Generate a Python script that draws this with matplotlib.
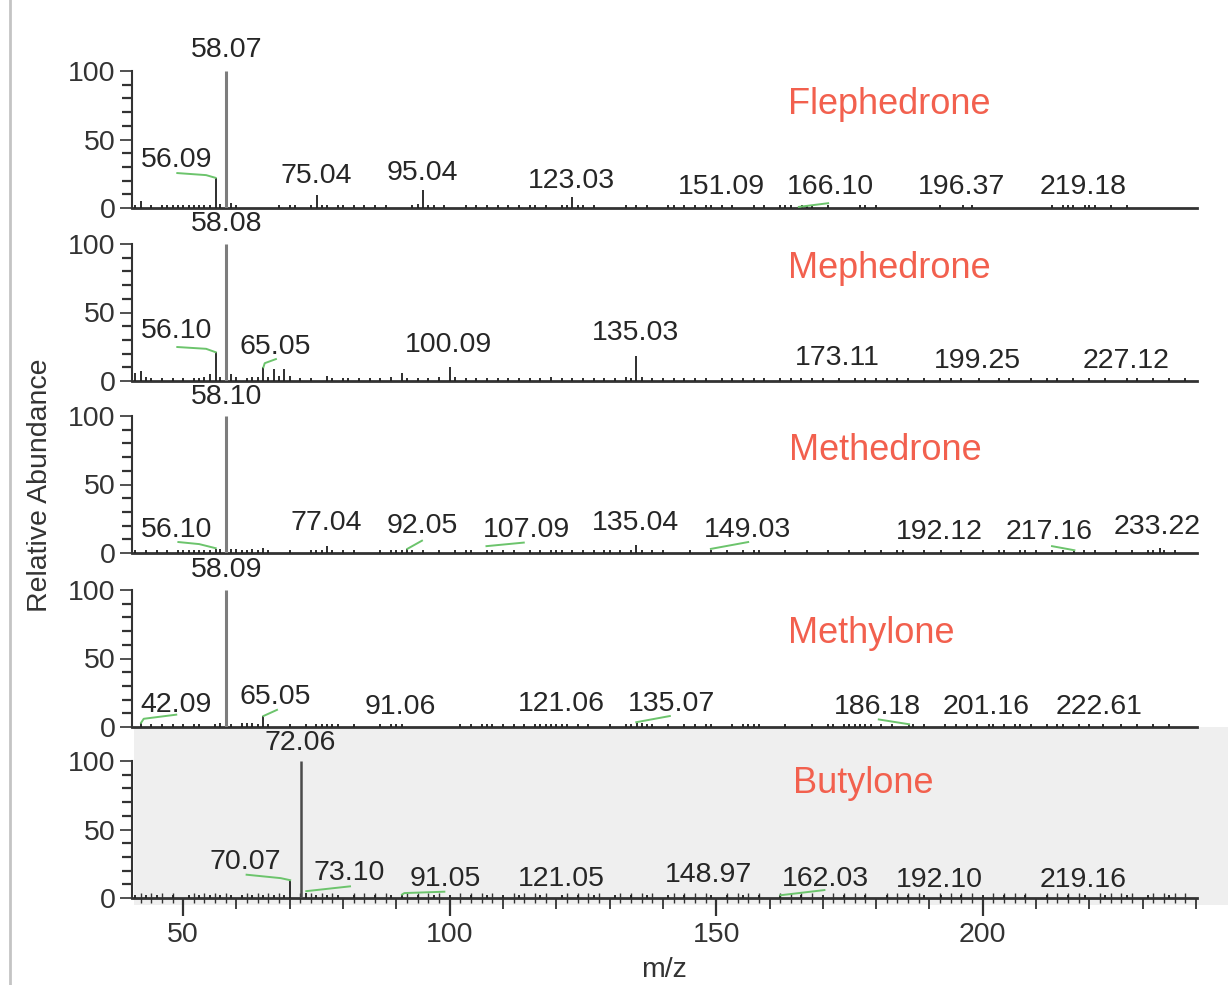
import numpy as np
import matplotlib
matplotlib.use('Agg')
import matplotlib.pyplot as plt
from matplotlib.patches import Rectangle
from matplotlib.lines import Line2D
from matplotlib.ticker import MultipleLocator, FixedLocator, NullFormatter

plt.rcParams['font.family'] = ['Liberation Sans', 'DejaVu Sans']

# ---------------- data ----------------
COMPOUNDS = ['Flephedrone', 'Mephedrone', 'Methedrone', 'Methylone', 'Butylone']

FLEPHEDRONE_PEAKS = [
    (41, 2), (42, 5), (44, 2), (46, 2), (47, 2), (48, 2), (49, 2), (50, 2), (51, 2), (52, 2),
    (53, 2), (54, 2.5), (55, 2.5), (56.09, 22), (57, 3), (58.07, 100), (59, 4), (60, 2),
    (68, 2), (70, 2.5), (71, 2), (74, 2.5), (75.04, 9.5), (76, 2.5), (77, 2), (79, 2.5),
    (80, 2), (82, 2), (84, 2), (86, 2), (88, 2), (93, 2.5), (94, 3), (95.04, 13), (96, 2.5),
    (97, 2), (99, 2), (103, 2), (105, 2), (107, 2), (109, 2), (111, 2), (113, 2), (115, 2),
    (116, 2), (118, 2), (121, 2), (122, 2.5), (123.03, 8), (124, 2.5), (125, 2), (127, 2),
    (133, 2), (135, 2), (137, 2), (141, 2), (142, 2), (144, 2), (146, 2), (148, 2), (149, 2),
    (151.09, 2), (153, 2), (157, 2), (159, 2), (162, 2), (163, 2), (164, 2.5), (166.10, 2.5),
    (167, 2), (168, 2), (171, 2), (177, 2), (178, 2), (180, 2), (192, 2.5), (196.37, 2.5),
    (198, 2), (213, 2), (215, 2.5), (216, 2), (217, 2), (219.18, 2.5), (220, 2), (221, 2),
    (224, 2), (227, 2),
]
MEPHEDRONE_PEAKS = [
    (41, 6), (42, 7), (43, 3), (44, 2), (46, 2), (48, 2), (50, 2), (52, 2), (53, 2.5), (54, 3),
    (55, 5), (56.10, 21), (57, 3), (58.08, 100), (59, 5), (60, 3), (62, 2), (63, 3), (64, 3),
    (65.05, 10), (66, 3), (67, 9), (68, 4), (69, 9), (70, 4), (72, 2), (74, 2), (77, 4),
    (78, 2), (80, 2), (81, 2), (83, 2), (85, 2.5), (87, 2), (89, 3), (91, 6), (92, 2), (94, 2),
    (96, 2), (98, 3), (100.09, 10), (101, 3), (103, 2), (105, 2), (107, 2), (109, 2), (111, 2),
    (113, 2), (115, 2), (117, 2), (119, 3), (121, 2), (123, 2), (125, 2), (127, 2), (129, 2),
    (131, 2), (133, 3), (134, 2), (135.03, 18), (136, 3), (138, 2), (140, 2), (142, 2),
    (144, 2), (146, 2), (148, 2), (151, 2), (153, 2), (155, 2), (157, 2), (159, 2), (162, 2),
    (164, 2), (166, 2), (168, 2), (170, 2), (173.11, 2.5), (176, 2), (178, 2), (180, 2),
    (182, 2), (184, 2), (186, 2), (189, 2), (192, 2), (194, 2), (196, 2), (199.25, 2),
    (203, 2), (205, 2), (209, 2), (212, 2), (214, 2), (217, 2), (220, 2), (223, 2),
    (227.12, 2), (229, 2), (232, 2), (235, 2), (238, 2),
]
METHEDRONE_PEAKS = [
    (41, 2), (43, 2), (45, 2), (47, 2), (49, 2), (50, 2), (51, 2), (52, 2), (53, 2), (54, 2),
    (55, 2), (56.10, 3), (57, 3), (58.10, 100), (59, 3), (60, 3), (61, 2), (62, 2), (63, 3),
    (64, 2), (65, 4), (66, 2), (70, 2), (74, 2), (75, 2), (76, 2.5), (77.04, 5), (78, 2.5),
    (80, 2), (82, 2), (87, 2), (89, 2), (90, 2), (91, 2), (92.05, 3), (93, 2), (95, 2),
    (98, 2), (101, 2), (103, 2), (104, 2), (107.09, 2), (108, 2), (110, 2), (112, 2),
    (115, 2), (117, 2), (119, 2), (120, 2), (121, 2.5), (123, 2), (125, 2), (127, 2),
    (129, 2), (130, 2), (132, 2), (134, 2.5), (135.04, 6), (136, 2), (138, 2.5), (140, 2),
    (145, 2), (149.03, 2), (152, 2), (155, 2), (157, 2), (158, 2), (163, 2), (167, 2),
    (171, 2), (175, 2), (178, 2), (181, 2), (184, 2), (185, 2), (189, 2), (192.12, 2),
    (196, 2), (200, 2), (203, 2), (204, 2), (207, 2), (208, 2), (210, 2), (213, 2), (215, 2),
    (217.16, 2), (219, 2), (221, 2), (225, 2), (228, 2), (231, 2), (232, 2), (233.22, 3.5),
    (234, 2), (236, 2),
]
METHYLONE_PEAKS = [
    (42.09, 3), (44, 2), (46, 2), (48, 2), (50, 2), (52, 2), (53, 2), (56, 2), (57, 3),
    (58.09, 100), (59, 2), (61, 3), (62, 3), (63, 3), (64, 2), (65.05, 8), (66, 2), (70, 2),
    (73, 2), (75, 2), (76, 2), (77, 2), (78, 2), (79, 2), (82, 2), (87, 2), (89, 2), (90, 2),
    (91.06, 2), (102, 2), (104, 2), (106, 2), (107, 2), (108, 2), (110, 2), (112, 2),
    (114, 2), (116, 2), (117, 2), (118, 2), (119, 2.5), (120, 2), (121.06, 2.5), (122, 2),
    (124, 2), (126, 2), (130, 2), (133, 2), (134, 2), (135.07, 3), (136, 3), (137, 2),
    (138, 2), (141, 2), (144, 2), (146, 2), (148, 2), (149, 2), (153, 2), (155, 2), (156, 2),
    (157, 2), (158, 2), (163, 2), (168, 2), (171, 2), (172, 2), (174, 2), (175, 2), (176, 2),
    (177, 2), (178, 2), (179, 2), (181, 2), (183, 2), (186.18, 2), (187, 2), (189, 2),
    (193, 2), (195, 2), (197, 2), (199, 2), (201.16, 2), (202, 2), (204, 2), (206, 2),
    (207, 2), (209, 2), (212, 2), (214, 2), (215, 2), (218, 2), (220, 2), (222.61, 2),
    (226, 2), (229, 2), (232, 2), (235, 2),
]
BUTYLONE_PEAKS = [
    (41, 2), (43, 2), (45, 2), (48, 2), (51, 2), (53, 2), (55, 2), (57, 2), (59, 2), (61, 2),
    (63, 2), (65, 2), (67, 2), (69, 2), (70.07, 13), (72.06, 100), (73.10, 4), (75, 2),
    (77, 2), (79, 2), (82, 2), (86, 2), (89, 2), (91.05, 2.5), (94, 2), (97, 2), (100, 2),
    (104, 2), (107, 2), (110, 2), (113, 2), (117, 2), (121.05, 2.5), (124, 2), (127, 2),
    (131, 2), (134, 2), (137, 2), (141, 2), (144, 2), (148.97, 2), (152, 2), (155, 2),
    (158, 2), (162.03, 2), (166, 2), (170, 2), (174, 2), (178, 2), (182, 2), (186, 2),
    (189, 2), (192.10, 2), (196, 2), (200, 2), (204, 2), (208, 2), (212, 2), (216, 2),
    (219.16, 2), (223, 2), (227, 2), (231, 2), (235, 2),
]
PEAKS = [FLEPHEDRONE_PEAKS, MEPHEDRONE_PEAKS, METHEDRONE_PEAKS, METHYLONE_PEAKS, BUTYLONE_PEAKS]

LABEL_TEXT = [
    ['58.07', '56.09', '75.04', '95.04', '123.03', '151.09', '166.10', '196.37', '219.18'],
    ['58.08', '56.10', '65.05', '100.09', '135.03', '173.11', '199.25', '227.12'],
    ['58.10', '56.10', '77.04', '92.05', '107.09', '135.04', '149.03', '192.12', '217.16', '233.22'],
    ['58.09', '42.09', '65.05', '91.06', '121.06', '135.07', '186.18', '201.16', '222.61'],
    ['72.06', '70.07', '73.10', '91.05', '121.05', '148.97', '162.03', '192.10', '219.16'],
]

X_TICKS = [50, 100, 150, 200]
Y_TICKS = [0, 50, 100]
Y_MINOR = list(range(0, 101, 10))

# ---------------- layout (text placement, leaders) ----------------
LABEL_POS = [
    [(58.07, 115.3), (48.7, 35.0), (74.9, 23.4), (94.8, 25.5), (122.8, 19.7), (150.9, 15.3),
     (171.5, 15.3), (196.1, 15.3), (218.8, 15.3)],
    [(58.08, 114.6), (48.7, 36.5), (67.3, 24.8), (99.7, 26.3), (134.8, 35.0), (172.8, 16.8),
     (199.1, 14.6), (226.8, 14.6)],
    [(58.10, 113.9), (48.7, 16.8), (76.8, 21.9), (94.8, 19.7), (114.5, 16.8), (134.8, 21.9),
     (155.9, 16.8), (191.9, 15.3), (212.4, 15.3), (232.8, 19.0)],
    [(58.09, 114.6), (48.7, 16.1), (67.3, 21.9), (90.7, 14.6), (120.9, 16.8), (141.7, 16.8),
     (180.3, 14.6), (200.6, 14.6), (221.9, 14.6)],
    [(71.9, 113.1), (61.6, 26.3), (81.1, 18.2), (99.1, 13.9), (120.9, 13.9), (148.6, 16.8),
     (170.4, 13.9), (191.9, 13.1), (218.8, 13.1)],
]
NAME_POS = [(182.4, 75.2), (182.4, 81.8), (181.8, 74.5), (179.0, 67.9), (177.5, 83.9)]

LEADERS = [
    [[(48.9, 25.5), (54.3, 24), (56.09, 22)], [(165.5, 0.8), (171.0, 3.5)]],
    [[(48.9, 24.8), (54.3, 23.5), (56.10, 21)], [(65.05, 10), (65.3, 13), (67.4, 16)]],
    [[(49.1, 8), (53.0, 6.5), (56.10, 3.5)], [(92.05, 3), (94.8, 9)],
     [(106.9, 5), (113.9, 7.6)], [(149.0, 3), (156.0, 8)], [(213.0, 5), (217.2, 2)]],
    [[(42.09, 3), (42.6, 6), (48.7, 9)], [(65.05, 8), (67.6, 12.5)],
     [(135.0, 3.5), (141.3, 8)], [(180.5, 5.5), (186.18, 2)]],
    [[(61.9, 17), (68.3, 14.5), (70.07, 13)], [(73.10, 5), (81.3, 8.5)],
     [(91.05, 2.5), (91.5, 3.6), (99.0, 4.6)], [(162.03, 2), (170.3, 5.8)]],
]

W, H = 1228, 985
BASELINES = [208, 381, 553, 727, 898]
TOP_PX = 35
X_LEFT, X_RIGHT = 132, 1197
PX_PER_UNIT = 1.37
XLIM = (40.4, 240.2)

LABEL_FS = 20.5
NAME_FS = 26
NAME_COLOR = '#F2604E'
GREEN = '#6cc46c'

fig = plt.figure(figsize=(W / 100, H / 100), dpi=100)
fig.patch.set_facecolor('white')

# grey background behind last panel
fig.add_artist(Rectangle((134 / W, 1 - 905 / H), (W - 134) / W, (905 - 727) / H,
                         transform=fig.transFigure, facecolor='#efefef',
                         edgecolor='none', zorder=-5))
# window border line at the left
fig.add_artist(Line2D([10 / W, 10 / W], [0, 1], transform=fig.transFigure,
                      color='#c4c4c4', lw=2, zorder=-4))

axes = []
prev = TOP_PX
for i, name in enumerate(COMPOUNDS):
    base = BASELINES[i]
    hpx = base - prev
    ax = fig.add_axes([X_LEFT / W, 1 - base / H, (X_RIGHT - X_LEFT) / W, hpx / H])
    ax.patch.set_alpha(0)
    ax.set_xlim(*XLIM)
    ax.set_ylim(0, hpx / PX_PER_UNIT)
    prev = base

    pk = np.array(PEAKS[i], dtype=float)
    mz, inten = pk[:, 0], pk[:, 1]
    small = inten < 100
    ax.vlines(mz[small], 0, inten[small], color='#1e1e1e', lw=1.3, zorder=3)
    big = ~small
    ax.vlines(mz[big], 0, inten[big], color='#7d7d7d' if i < 4 else '#4a4a4a',
              lw=2.2 if i < 4 else 1.8, zorder=3)

    for txt, (lx, ly) in zip(LABEL_TEXT[i], LABEL_POS[i]):
        ax.text(lx, ly, txt, ha='center', va='center', fontsize=LABEL_FS,
                color='#262626', clip_on=False, zorder=5)
    for seg in LEADERS[i]:
        s = np.array(seg)
        ax.plot(s[:, 0], s[:, 1], color=GREEN, lw=1.4, zorder=4, clip_on=False)
    nx, ny = NAME_POS[i]
    ax.text(nx, ny, name, ha='center', va='center', fontsize=NAME_FS,
            color=NAME_COLOR, zorder=5)

    for s in ['top', 'right']:
        ax.spines[s].set_visible(False)
    ax.spines['left'].set_bounds(0, 100)
    ax.spines['left'].set_linewidth(1.5)
    ax.spines['left'].set_color('#333333')
    ax.spines['bottom'].set_linewidth(2.0)
    ax.spines['bottom'].set_color('#333333')

    ax.yaxis.set_major_locator(FixedLocator(Y_TICKS))
    ax.yaxis.set_minor_locator(FixedLocator(Y_MINOR))
    ax.tick_params(axis='y', which='major', length=9, width=1.2, direction='out',
                   labelsize=LABEL_FS, pad=3, colors='#333333', labelcolor='#333333')
    ax.tick_params(axis='y', which='minor', length=7, width=1.6, direction='out',
                   colors='#333333')

    if i < 4:
        ax.tick_params(axis='x', which='both', bottom=False, labelbottom=False)
    else:
        ax.xaxis.set_major_locator(MultipleLocator(10))
        ax.xaxis.set_minor_locator(MultipleLocator(2))
        ax.xaxis.set_major_formatter(NullFormatter())
        ax.tick_params(axis='x', which='major', length=8, width=1.3, direction='out',
                       colors='#333333')
        ax.tick_params(axis='x', which='minor', length=7, width=1.0, direction='inout',
                       colors='#333333')
        sec = ax.secondary_xaxis('bottom')
        sec.set_xticks(X_TICKS)
        sec.spines['bottom'].set_visible(False)
        sec.tick_params(length=13, width=1.6, direction='out', labelsize=LABEL_FS,
                        pad=4, colors='#333333', labelcolor='#333333')
    axes.append(ax)

fig.text(40 / W, 1 - 485 / H, 'Relative Abundance', rotation=90, ha='center',
         va='center', fontsize=LABEL_FS, color='#333333')
fig.text(664 / W, 1 - 970 / H, 'm/z', ha='center', va='center', fontsize=LABEL_FS,
         color='#333333')

fig.savefig('out.png', dpi=100, facecolor='white')
